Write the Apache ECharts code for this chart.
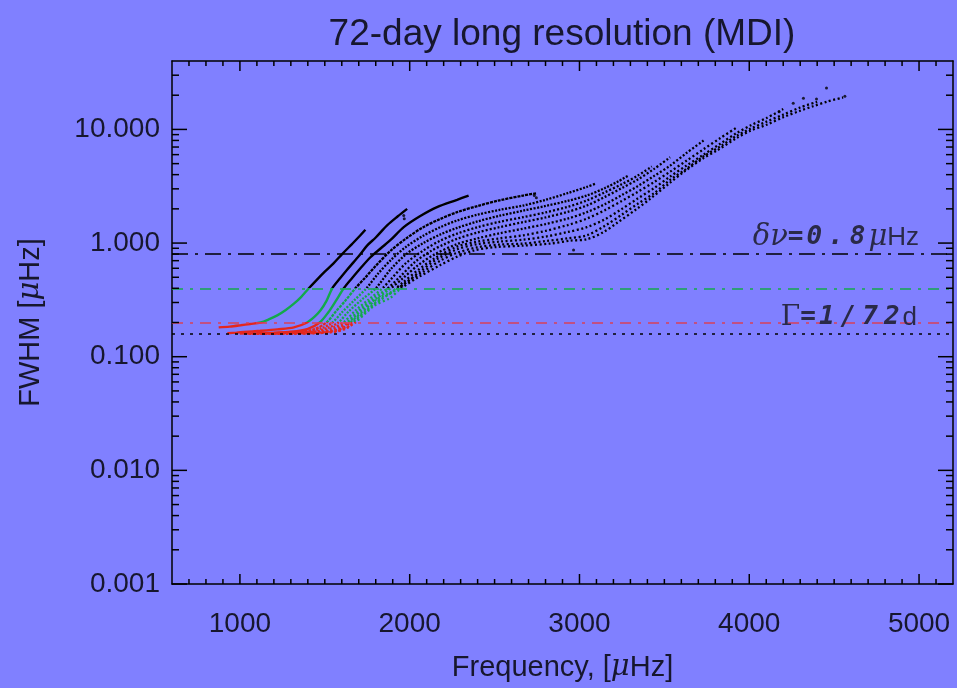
<!DOCTYPE html>
<html><head><meta charset="utf-8">
<script src="https://cdn.jsdelivr.net/npm/echarts@6/dist/echarts.min.js"></script>
<style>html,body{margin:0;padding:0;background:#8080ff;}#c{width:957px;height:688px;}</style>
</head><body><div id="c"></div>
<script>
// ---- axis ranges & ticks ----
const X_MIN = 600, X_MAX = 5200, Y_MIN = 0.001, Y_MAX = 40;
const xMajor = [1000, 2000, 3000, 4000, 5000];
const xMinor = [700, 800, 900, 1100, 1200, 1300, 1400, 1500, 1600, 1700, 1800, 1900,
  2100, 2200, 2300, 2400, 2500, 2600, 2700, 2800, 2900, 3100, 3200, 3300, 3400, 3500,
  3600, 3700, 3800, 3900, 4100, 4200, 4300, 4400, 4500, 4600, 4700, 4800, 4900, 5100];
const yMajor = [0.001, 0.01, 0.1, 1, 10];
const yMinor = [0.002, 0.003, 0.004, 0.005, 0.006, 0.007, 0.008, 0.009,
  0.02, 0.03, 0.04, 0.05, 0.06, 0.07, 0.08, 0.09,
  0.2, 0.3, 0.4, 0.5, 0.6, 0.7, 0.8, 0.9,
  2, 3, 4, 5, 6, 7, 8, 9, 20, 30];

// ---- reference lines: delta nu, delta nu/2, ..., Gamma = 1/72 d ----
const refValues = [0.8, 0.4, 0.2, 0.1608];

// ---- ridges [frequency uHz, FWHM uHz] ----
const ridgeA = [[875,0.181],[940,0.184],[1004,0.189],[1060,0.194],[1122,0.2],[1170,0.213],[1220,0.231],[1270,0.258],[1318,0.293],[1360,0.335],[1406,0.4],[1450,0.47],[1500,0.56],[1550,0.66],[1602,0.8],[1660,0.98],[1700,1.13],[1739,1.31]];
const ridgeB = [[926,0.161],[980,0.163],[1024,0.165],[1120,0.169],[1220,0.174],[1318,0.181],[1396,0.2],[1440,0.225],[1475,0.256],[1510,0.31],[1544,0.4],[1590,0.49],[1630,0.58],[1670,0.68],[1710,0.8],[1749,0.95],[1800,1.12],[1867,1.43],[1930,1.72],[1985,2.0]];
const ridgeC = [[1000,0.160],[1100,0.161],[1200,0.163],[1300,0.166],[1400,0.176],[1470,0.2],[1520,0.245],[1565,0.31],[1612,0.4],[1660,0.49],[1710,0.6],[1769,0.75],[1830,0.9],[1889,1.07],[1965,1.38],[2060,1.72],[2161,2.07],[2279,2.4],[2347,2.62]];
const ridgeD = [[1050,0.159],[1150,0.160],[1250,0.162],[1350,0.165],[1440,0.175],[1510,0.2],[1560,0.245],[1620,0.31],[1680,0.4],[1740,0.5],[1800,0.63],[1889,0.86],[1980,1.1],[2080,1.38],[2180,1.63],[2279,1.87],[2400,2.12],[2530,2.38],[2669,2.62],[2749,2.75]];
const ridgeE = [[1100,0.159],[1200,0.160],[1300,0.162],[1400,0.166],[1480,0.178],[1545,0.2],[1600,0.245],[1670,0.31],[1745,0.4],[1810,0.53],[1889,0.71],[1980,0.93],[2080,1.16],[2180,1.38],[2279,1.58],[2400,1.78],[2530,1.96],[2669,2.14],[2800,2.4],[2930,2.75],[3043,3.12],[3092,3.32]];
const ridgeF = [[1150,0.159],[1250,0.160],[1350,0.162],[1450,0.167],[1520,0.18],[1580,0.2],[1640,0.25],[1720,0.32],[1800,0.4],[1889,0.59],[1980,0.8],[2080,1.0],[2180,1.19],[2279,1.36],[2400,1.55],[2530,1.74],[2669,1.93],[2800,2.12],[2930,2.35],[3043,2.62],[3150,3.05],[3230,3.5],[3288,3.93]];
const ridgeG = [[1200,0.159],[1300,0.160],[1400,0.163],[1490,0.169],[1560,0.183],[1610,0.2],[1680,0.255],[1760,0.32],[1840,0.4],[1889,0.48],[1980,0.67],[2080,0.86],[2180,1.05],[2279,1.21],[2400,1.38],[2530,1.54],[2669,1.69],[2800,1.86],[2930,2.08],[3043,2.37],[3150,2.8],[3250,3.3],[3340,3.9],[3426,4.71]];
const ridgeH = [[1250,0.159],[1350,0.160],[1450,0.163],[1530,0.17],[1590,0.185],[1630,0.2],[1700,0.255],[1790,0.33],[1870,0.4],[1940,0.5],[2030,0.68],[2130,0.86],[2200,0.97],[2279,1.09],[2400,1.24],[2530,1.38],[2669,1.53],[2800,1.68],[2930,1.88],[3043,2.14],[3150,2.55],[3250,3.05],[3340,3.6],[3440,4.5],[3534,5.69]];
const ridgeI = [[1300,0.159],[1400,0.161],[1500,0.165],[1580,0.175],[1640,0.2],[1720,0.26],[1810,0.33],[1889,0.4],[1960,0.49],[2050,0.64],[2150,0.8],[2279,0.98],[2400,1.1],[2530,1.22],[2669,1.34],[2800,1.47],[2930,1.64],[3043,1.87],[3150,2.2],[3250,2.65],[3340,3.15],[3440,3.9],[3534,4.8],[3630,6.2],[3731,7.98]];
const ridgeJ = [[1350,0.159],[1450,0.162],[1540,0.167],[1610,0.18],[1650,0.2],[1740,0.265],[1820,0.33],[1889,0.37],[1960,0.45],[2050,0.58],[2150,0.74],[2279,0.93],[2400,1.03],[2530,1.1],[2669,1.17],[2800,1.28],[2930,1.44],[3043,1.64],[3150,1.95],[3250,2.35],[3340,2.8],[3440,3.45],[3534,4.25],[3630,5.3],[3731,6.7],[3830,8.4],[3926,10.4]];
const ridgeK = [[1400,0.16],[1500,0.163],[1580,0.17],[1640,0.185],[1660,0.2],[1760,0.27],[1840,0.33],[1900,0.37],[1970,0.44],[2060,0.56],[2160,0.72],[2279,0.88],[2400,0.98],[2530,1.03],[2669,1.07],[2800,1.14],[2930,1.25],[3043,1.38],[3150,1.62],[3250,2.0],[3340,2.45],[3440,3.05],[3534,3.85],[3630,4.8],[3731,6.0],[3830,7.5],[3926,9.3],[4010,10.9],[4102,12.6],[4200,15.1]];
const ridgeL = [[1450,0.161],[1550,0.165],[1620,0.175],[1670,0.2],[1780,0.28],[1860,0.34],[1920,0.39],[1990,0.46],[2080,0.56],[2180,0.7],[2279,0.82],[2400,0.92],[2530,0.97],[2669,0.99],[2800,1.04],[2930,1.1],[3043,1.17],[3150,1.42],[3250,1.78],[3340,2.2],[3440,2.75],[3534,3.6],[3630,4.5],[3731,5.8],[3830,7.1],[3926,8.8],[4010,10.2],[4102,11.7],[4200,13.5],[4300,15.6],[4400,17.5]];
const ridgeM = [[1500,0.163],[1570,0.168],[1630,0.18],[1680,0.2],[1790,0.28],[1886,0.33],[1950,0.4],[2050,0.5],[2180,0.64],[2280,0.76],[2377,0.86],[2500,0.92],[2669,0.95],[2828,0.99],[2945,1.05],[3043,1.08],[3142,1.25],[3220,1.5],[3338,2.0],[3416,2.45],[3534,3.4],[3612,4.2],[3731,5.6],[3808,6.5],[3926,8.4],[4004,9.7],[4102,11.0],[4200,12.8],[4300,14.6],[4376,16.0],[4460,17.6],[4553,19.1]];
const strays = [[4455,23.2],[4319,18.8],[4259,17.0],[4176,14.3],[2965,0.87],[4396,18.5],[4563,19.6],
  [1965,1.75],[1968,1.64],[2734,2.62],[2746,2.5]];

const ridges = [ridgeA, ridgeB, ridgeC, ridgeD, ridgeE, ridgeF, ridgeG, ridgeH, ridgeI, ridgeJ, ridgeK, ridgeL, ridgeM];
const ridgeDash = ['solid','solid','solid',[3,1],[2,1.5],[2,1.5],[2,2],[2,2],[2,2],[2,2.5],[2,2.5],[2,2.5],[2,2.5]];

const FONT = "'Liberation Sans', Arial, Helvetica, sans-serif";
const SERIF = "'DejaVu Serif', 'Liberation Serif', serif";
const MONO = "'DejaVu Sans Mono', 'Liberation Mono', monospace";
const TXT = '#17172e';
const RED = '#e4261e', GREEN = '#13a84c';

const nameStyle = { fontSize: 29, fontFamily: FONT, color: TXT,
  rich: { m: { fontSize: 29, fontFamily: SERIF, fontStyle: 'italic', color: TXT } } };

function xAx(pos, main) {
  return {
    type: 'value', min: X_MIN, max: X_MAX, position: pos,
    axisLine: { show: true, onZero: false, lineStyle: { color: '#000', width: 1.5 } },
    axisTick: { show: false },
    axisLabel: main
      ? { show: true, customValues: xMajor, fontSize: 28, fontFamily: FONT, color: TXT, margin: 26,
          formatter: v => String(v) }
      : { show: false },
    splitLine: { show: false },
    name: main ? 'Frequency, [{m|μ}Hz]' : '',
    nameLocation: 'middle', nameGap: 69, nameTextStyle: nameStyle
  };
}
function yAx(pos, main) {
  return {
    type: 'log', logBase: 10, min: Y_MIN, max: Y_MAX, position: pos,
    axisLine: { show: true, onZero: false, lineStyle: { color: '#000', width: 1.5 } },
    axisTick: { show: false },
    axisLabel: main
      ? { show: true, customValues: yMajor, fontSize: 28, fontFamily: FONT, color: TXT, margin: 12,
          formatter: v => Number(v).toFixed(3) }
      : { show: false },
    splitLine: { show: false }, minorTick: { show: false },
    name: main ? 'FWHM [{m|μ}Hz]' : '',
    nameLocation: 'middle', nameGap: 127, nameTextStyle: nameStyle
  };
}

// tick marks: small filled rects placed through the axes' own scales (inward ticks on all four sides)
function tickSeries(values, dir, side, len) {
  return {
    type: 'custom', coordinateSystem: 'cartesian2d', xAxisIndex: 0, yAxisIndex: 0,
    silent: true, animation: false, clip: false, z: 10,
    data: values.map(v => dir === 'x' ? [v, side === 'bottom' ? Y_MIN : Y_MAX] : [side === 'left' ? X_MIN : X_MAX, v]),
    renderItem: function (params, api) {
      const p = api.coord([api.value(0), api.value(1)]);
      let shape;
      if (dir === 'x') shape = { x: p[0] - 0.75, y: side === 'bottom' ? p[1] - len : p[1], width: 1.5, height: len };
      else shape = { x: side === 'left' ? p[0] : p[0] - len, y: p[1] - 0.75, width: len, height: 1.5 };
      return { type: 'rect', shape: shape, style: { fill: '#000' } };
    }
  };
}

const labelRich = {
  s: { fontFamily: SERIF, fontStyle: 'italic', fontSize: 29, color: '#2a2a48' },
  g: { fontFamily: SERIF, fontSize: 28, color: '#2a2a48' },
  b: { fontFamily: MONO, fontWeight: 'bold', fontStyle: 'italic', fontSize: 26, color: '#2a2a48' },
  d: { fontFamily: MONO, fontWeight: 'bold', fontStyle: 'italic', fontSize: 26, color: '#2a2a48', padding: [0, 3, 0, 3] },
  h: { fontFamily: FONT, fontSize: 26, color: '#2a2a48' }
};

const series = ridges.map((r, i) => ({
  type: 'line', data: r, showSymbol: false, smooth: 0.3, silent: true, animation: false,
  lineStyle: { width: i < 3 ? 2.4 : 2.3, type: ridgeDash[i], cap: 'butt' }
}));
series.push({
  type: 'scatter', data: strays, symbolSize: 3, silent: true, animation: false,
  itemStyle: { color: '#000' }
});
series.push(tickSeries(xMajor, 'x', 'bottom', 10));
series.push(tickSeries(xMinor, 'x', 'bottom', 5));
series.push(tickSeries(xMajor, 'x', 'top', 10));
series.push(tickSeries(xMinor, 'x', 'top', 5));
series.push(tickSeries(yMajor, 'y', 'left', 15));
series.push(tickSeries(yMinor, 'y', 'left', 7));
series.push(tickSeries(yMajor, 'y', 'right', 15));
series.push(tickSeries(yMinor, 'y', 'right', 7));
series.push({
  type: 'line', data: [], silent: true, animation: false,
  markLine: {
    silent: true, symbol: ['none', 'none'], animation: false,
    data: [
      { yAxis: refValues[0], lineStyle: { color: '#000', type: [16, 7, 3, 7], width: 1.5 },
        label: { show: true, position: 'insideEndTop', distance: [34, 2],
          formatter: '{s|δν}{b|=}{d|0}{d|.}{d|8}{s|μ}{h|Hz}', rich: labelRich } },
      { yAxis: refValues[1], lineStyle: { color: GREEN, type: [11, 7, 3, 7], width: 1.5 }, label: { show: false } },
      { yAxis: refValues[2], lineStyle: { color: '#d8405a', type: [11, 7, 3, 7], width: 1.5 }, label: { show: false } },
      { yAxis: refValues[3], lineStyle: { color: '#000', type: [3, 6], width: 1.5 },
        label: { show: true, position: 'insideEndTop', distance: [36, 2],
          formatter: '{g|Γ}{b|=}{d|1}{d|/}{d|7}{d|2}{h|d}', rich: labelRich } }
    ]
  }
});

const chart = echarts.init(document.getElementById('c'), null, { renderer: 'canvas' });
chart.setOption({
  backgroundColor: '#8080ff',
  animation: false,
  title: { text: '72-day long resolution (MDI)', left: 557, top: 11, textAlign: 'center',
    textStyle: { fontSize: 37, fontWeight: 'normal', fontFamily: FONT, color: TXT } },
  grid: { left: 172, right: 4, top: 61, bottom: 104, containLabel: false },
  xAxis: [xAx('bottom', true), xAx('top', false)],
  yAxis: [yAx('left', true), yAx('right', false)],
  visualMap: {
    show: false, type: 'piecewise', dimension: 1,
    seriesIndex: ridges.map((r, i) => i),
    pieces: [
      { lt: 0.2, color: RED },
      { gte: 0.2, lt: 0.4, color: GREEN },
      { gte: 0.4, color: '#000' }
    ]
  },
  series: series
});
</script>
</body></html>
